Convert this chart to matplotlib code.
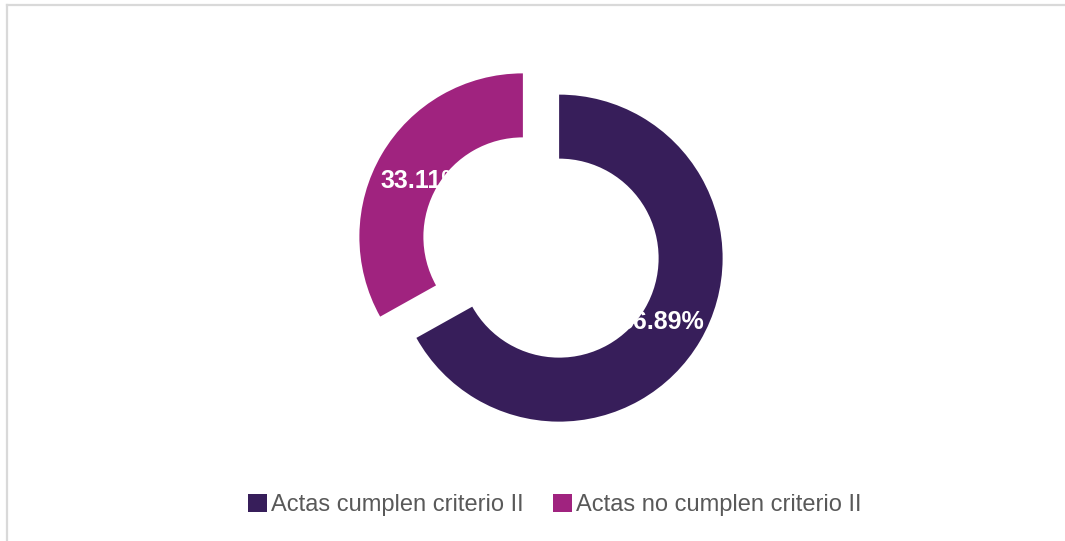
import matplotlib
matplotlib.use("Agg")
import matplotlib.pyplot as plt
from matplotlib.patches import Patch
from matplotlib.lines import Line2D

# Datos
categorias = ["Actas cumplen criterio II", "Actas no cumplen criterio II"]
valores = [66.89, 33.11]
colores = ["#371E5A", "#A0237F"]

plt.rcParams['font.family'] = ['Liberation Sans', 'DejaVu Sans']

W, H = 1065, 541
fig = plt.figure(figsize=(W / 100, H / 100), dpi=100)
ax = fig.add_axes([0, 0, 1, 1])

radio = 163.5
centro = (541, H - 247.5)

# explode va en unidades de datos (px aquí)
wedges, textos, autotextos = ax.pie(
    valores, colors=colores, startangle=90, counterclock=False,
    explode=[21, 21], radius=radio, center=centro,
    wedgeprops=dict(width=64, linewidth=0),
    autopct=lambda p: f"{p:.2f}%", pctdistance=0.72,
    textprops=dict(color="white", fontsize=18, fontweight="bold"))

# pequeño ajuste vertical de las etiquetas
for t in autotextos:
    x, y = t.get_position()
    t.set_position((x + 1, y - 4))

ax.set_xlim(0, W)
ax.set_ylim(0, H)
ax.set_aspect('equal')
ax.axis('off')

# Marco del gráfico
fig.add_artist(Line2D([7 / W, 7 / W], [0, 1 - 5 / H], transform=fig.transFigure,
                      color="#D9D9D9", lw=1.6))
fig.add_artist(Line2D([7 / W, 1], [1 - 5 / H, 1 - 5 / H], transform=fig.transFigure,
                      color="#D9D9D9", lw=1.6))

handles = [Patch(facecolor=c, edgecolor='none') for c in colores]
fig.legend(handles, categorias, loc='center', bbox_to_anchor=(555 / W, 1 - 505 / H),
           ncol=2, frameon=False, fontsize=17, labelcolor="#595959",
           handlelength=0.8, handleheight=0.8, handletextpad=0.17, columnspacing=1.25,
           borderpad=0)

fig.savefig("out.png", dpi=100)
